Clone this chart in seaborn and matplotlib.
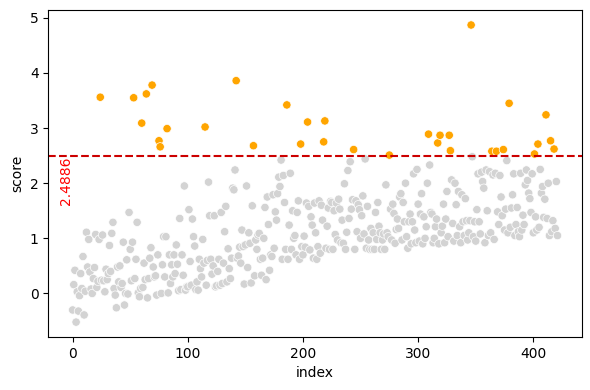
import numpy as np
import pandas as pd
import matplotlib
matplotlib.use("Agg")
import matplotlib.pyplot as plt
import seaborn as sns

threshold = 2.4886

scores = [
    -0.30, 0.16, 0.42, -0.52, 0.03, -0.32, -0.04, 0.36, 0.09, 0.67,
    -0.39, 0.04, 1.11, 0.48, 0.98, 0.39, 0.08, 0.00, 0.27, 0.47,
    1.07, 0.11, 0.22, 0.98, 3.56, 0.24, 1.06, 0.23, 0.03, 0.44,
    0.25, 0.36, 0.87, 0.40, 1.09, 1.29, 0.09, -0.03, -0.26, 0.48,
    0.21, 0.50, 0.11, 0.18, 0.93, -0.21, 0.00, 0.61, -0.01, 1.47,
    0.80, 0.23, 0.93, 3.55, 0.27, 0.62, 1.29, 0.01, -0.06, 0.09,
    3.09, 0.11, 0.55, 0.25, 3.62, -0.08, 0.27, 0.64, 0.83, 3.78,
    0.48, 0.30, 0.32, -0.03, 0.70, 2.77, 2.66, 0.00, 0.52, 1.03,
    0.30, 1.03, 2.99, 0.01, 0.70, 0.18, 0.52, 0.30, 0.70, 0.36,
    0.88, 0.53, 0.05, 1.36, 0.07, 0.70, 0.33, 1.95, 0.06, 0.12,
    0.12, 1.52, 0.58, 0.15, 1.35, 1.03, 0.86, 0.07, 0.21, 0.06,
    0.62, 0.45, 0.30, 0.98, 0.55, 3.02, 0.15, 0.60, 2.02, 1.41,
    0.62, 0.35, 0.50, 1.41, 0.12, 0.14, 0.40, 0.62, 0.15, 1.47,
    0.18, 0.55, 1.12, 1.58, 0.21, 0.81, 0.45, 0.27, 0.64, 1.91,
    1.88, 2.24, 3.86, 0.64, 0.68, 0.84, 0.55, 1.15, 0.85, 0.17,
    0.88, 1.95, 0.47, 1.10, 0.91, 0.19, 1.59, 2.68, 0.32, 0.97,
    0.80, 1.06, 1.09, 0.62, 0.33, 0.64, 1.00, 1.56, 0.25, 1.75,
    1.25, 0.42, 0.70, 0.67, 1.79, 0.82, 1.48, 1.33, 1.81, 2.11,
    1.94, 2.42, 0.62, 2.14, 1.65, 0.80, 3.42, 0.62, 1.24, 2.18,
    0.80, 1.50, 1.00, 1.05, 0.70, 1.47, 1.68, 0.62, 2.71, 0.85,
    0.70, 1.04, 0.84, 1.64, 3.11, 1.58, 0.79, 1.39, 1.24, 0.64,
    1.64, 1.10, 0.62, 0.85, 1.68, 0.73, 1.60, 1.33, 2.75, 3.13,
    0.82, 1.22, 1.55, 0.80, 1.67, 1.65, 0.80, 1.50, 1.07, 1.64,
    0.97, 1.71, 1.53, 0.92, 1.33, 0.91, 1.99, 0.80, 1.11, 2.23,
    1.36, 2.39, 1.53, 1.70, 2.61, 0.80, 1.68, 1.12, 1.61, 1.52,
    1.00, 1.41, 1.77, 1.08, 2.44, 0.82, 1.58, 0.97, 0.80, 1.18,
    0.80, 1.10, 0.80, 1.47, 0.98, 1.65, 1.22, 1.10, 0.80, 0.97,
    1.08, 0.80, 1.97, 1.10, 1.03, 2.51, 1.53, 0.97, 1.62, 1.45,
    0.91, 1.16, 1.35, 1.18, 1.75, 1.81, 0.97, 1.65, 1.30, 2.00,
    1.03, 0.82, 1.30, 1.44, 0.90, 1.30, 2.17, 1.15, 0.92, 2.25,
    1.62, 0.95, 1.44, 1.81, 0.90, 1.39, 1.00, 1.21, 2.00, 2.89,
    2.33, 1.47, 1.44, 0.92, 1.00, 1.21, 1.35, 2.73, 0.90, 2.87,
    1.10, 1.22, 1.62, 0.92, 1.35, 1.85, 1.03, 2.87, 2.59, 2.06,
    1.27, 0.95, 2.00, 1.61, 1.05, 1.85, 1.21, 0.92, 1.79, 1.30,
    1.05, 1.72, 1.32, 0.97, 1.10, 1.32, 4.87, 2.48, 1.03, 1.30,
    0.95, 1.52, 2.17, 1.30, 1.08, 2.20, 2.03, 1.91, 0.92, 2.24,
    1.50, 1.05, 2.21, 1.10, 2.58, 2.15, 0.98, 2.18, 2.58, 1.48,
    1.25, 2.14, 1.75, 1.41, 2.61, 1.15, 1.53, 2.41, 1.10, 3.45,
    1.20, 1.55, 1.79, 2.17, 1.05, 1.25, 1.56, 1.12, 1.03, 2.18,
    1.15, 1.42, 1.25, 1.97, 2.24, 2.05, 1.82, 1.72, 1.47, 2.17,
    1.10, 2.53, 1.39, 1.15, 2.71, 1.20, 2.25, 1.82, 1.94, 1.38,
    1.71, 3.24, 1.36, 2.00, 1.05, 2.77, 1.12, 1.32, 2.62, 1.18,
    2.03, 1.05,
]

df = pd.DataFrame({"index": np.arange(len(scores)), "score": scores})
df["outlier"] = df["score"] > threshold

fig, ax = plt.subplots(figsize=(5.9, 3.9), dpi=100)
sns.scatterplot(data=df, x="index", y="score", hue="outlier",
                palette={False: "lightgray", True: "orange"},
                legend=False, ax=ax)
ax.axhline(threshold, color="#cc0000", linestyle="--", linewidth=1.5)
ax.text(0, threshold, f"{threshold:.4f}", rotation=90, va="top", ha="right",
        color="red", fontsize=10)
ax.set_xlabel("index")
ax.set_ylabel("score")
fig.subplots_adjust(left=0.082, right=0.986, top=0.974, bottom=0.136)
fig.savefig("out.png", dpi=100)
